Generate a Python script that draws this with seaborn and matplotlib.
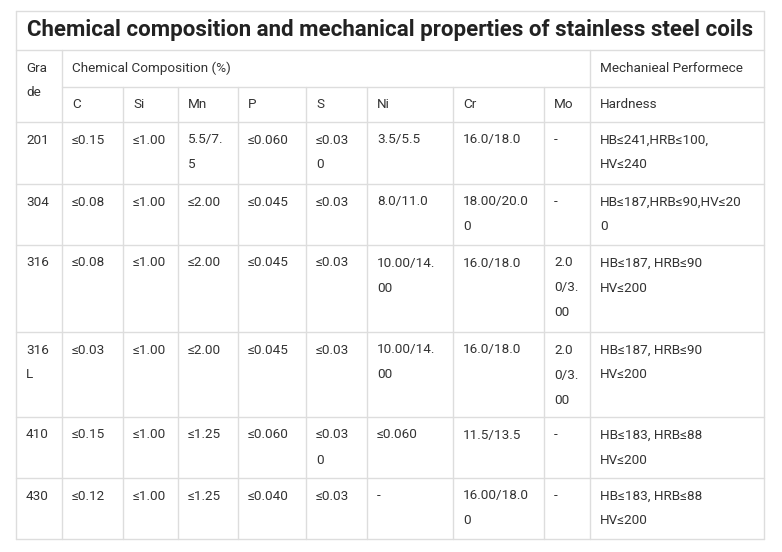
import matplotlib
matplotlib.use("Agg")
import matplotlib.pyplot as plt
import seaborn as sns

sns.set_theme(style="white")
plt.rcParams['font.family'] = ['Roboto', 'DejaVu Sans']

title = "Chemical composition and mechanical properties of stainless steel coils"
header_grade = "Gra\nde"
header_chem = "Chemical Composition (%)"
header_mech = "Mechanieal Performece"
sub_headers = ["C", "Si", "Mn", "P", "S", "Ni", "Cr", "Mo", "Hardness"]
grades = ["201", "304", "316", "316\nL", "410", "430"]
col_C = ["≤0.15", "≤0.08", "≤0.08", "≤0.03", "≤0.15", "≤0.12"]
col_Si = ["≤1.00"] * 6
col_Mn = ["5.5/7.\n5", "≤2.00", "≤2.00", "≤2.00", "≤1.25", "≤1.25"]
col_P = ["≤0.060", "≤0.045", "≤0.045", "≤0.045", "≤0.060", "≤0.040"]
col_S = ["≤0.03\n0", "≤0.03", "≤0.03", "≤0.03", "≤0.03\n0", "≤0.03"]
col_Ni = ["3.5/5.5", "8.0/11.0", "10.00/14.\n00", "10.00/14.\n00", "≤0.060", "-"]
col_Cr = ["16.0/18.0", "18.00/20.0\n0", "16.0/18.0", "16.0/18.0", "11.5/13.5", "16.00/18.0\n0"]
col_Mo = ["-", "-", "2.0\n0/3.\n00", "2.0\n0/3.\n00", "-", "-"]
col_Hard = ["HB≤241,HRB≤100,\nHV≤240", "HB≤187,HRB≤90,HV≤20\n0",
            "HB≤187, HRB≤90\nHV≤200", "HB≤187, HRB≤90\nHV≤200",
            "HB≤183, HRB≤88\nHV≤200", "HB≤183, HRB≤88\nHV≤200"]

xs = [16, 62, 123, 178, 238, 306, 367, 453, 544, 590, 764]
ys = [11, 50, 87, 122, 184, 245, 332, 417, 478, 539]

fig = plt.figure(figsize=(7.82, 5.52), dpi=100)
ax = fig.add_axes([0, 0, 1, 1])
ax.set_xlim(0, 782)
ax.set_ylim(552, 0)
ax.axis('off')

lc = "#dddddd"
tc = "#333333"
lw = 1.0
for y in ys:
    if y == 87:
        ax.plot([xs[1], xs[-1]], [y, y], color=lc, lw=lw)
    else:
        ax.plot([xs[0], xs[-1]], [y, y], color=lc, lw=lw)
ax.plot([xs[0], xs[0]], [ys[0], ys[-1]], color=lc, lw=lw)
ax.plot([xs[-1], xs[-1]], [ys[0], ys[-1]], color=lc, lw=lw)
for i, x in enumerate(xs[1:-1], start=1):
    if i in (1, 9):
        ax.plot([x, x], [ys[1], ys[-1]], color=lc, lw=lw)
    else:
        ax.plot([x, x], [ys[2], ys[-1]], color=lc, lw=lw)

ax.text(390, 30, title, ha='center', va='center', fontsize=16, fontweight='bold', color="#222222")

def cell(txt, x, ytop):
    for k, line in enumerate(txt.split("\n")):
        ax.text(x + 10, ytop + 18 + 25 * k, line, ha='left', va='center', fontsize=9.7, color=tc)

cell(header_grade, xs[0], ys[1])
cell(header_chem, xs[1], ys[1])
cell(header_mech, xs[9], ys[1])
for j, h in enumerate(sub_headers):
    cell(h, xs[j + 1], ys[2])

cols = [grades, col_C, col_Si, col_Mn, col_P, col_S, col_Ni, col_Cr, col_Mo, col_Hard]
for r in range(6):
    for c, col in enumerate(cols):
        cell(col[r], xs[c], ys[3 + r])

fig.savefig("out.png", dpi=100)
